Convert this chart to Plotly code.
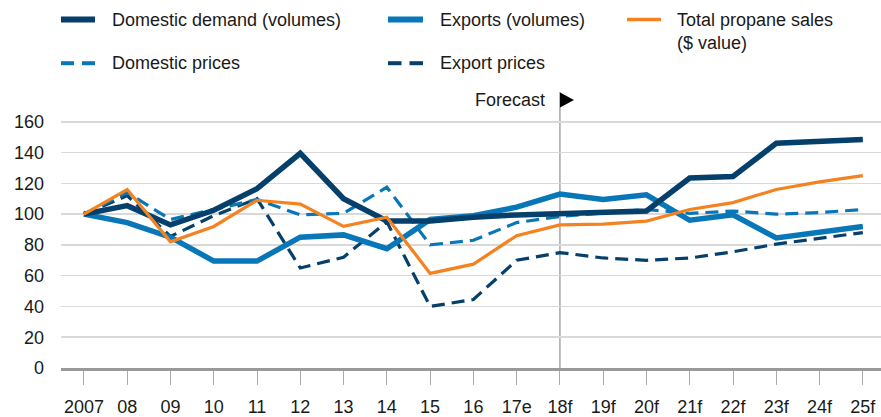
import plotly.graph_objects as go

categories = ["2007", "08", "09", "10", "11", "12", "13", "14", "15", "16", "17e",
              "18f", "19f", "20f", "21f", "22f", "23f", "24f", "25f"]
domestic_demand = [100, 105.5, 93, 102.5, 116.5, 139.5, 110, 95.5, 95.5, 98, 99.5,
                   100.5, 101.5, 102, 123.5, 124.5, 146, 147, 148.5]
exports_volumes = [100, 94.5, 85, 69.5, 69.5, 85, 86.5, 77.5, 96.5, 99, 104.5,
                   113, 109.5, 112.5, 96, 99.5, 84.5, 88, 92]
total_sales = [100, 116, 82, 92, 109, 106.5, 92, 98, 61.5, 67.5, 86,
               93, 93.5, 95.5, 103, 107.5, 116, 121, 125]
domestic_prices = [100, 114, 96.5, 103, 109.5, 99.5, 100.5, 117.5, 80, 83, 94.5,
                   98.5, 101, 103, 100.5, 102, 100, 101, 103]
export_prices = [100, 112, 85.5, 99, 110, 65, 72, 95, 40, 44.5, 70,
                 75, 71.5, 70, 71.5, 75.5, 80.5, 84.5, 88]
y_ticks = [0, 20, 40, 60, 80, 100, 120, 140, 160]
forecast_start = "18f"

NAVY = "#053f6b"
BLUE = "#0877b8"
ORANGE = "#f58220"
FONT = "Liberation Sans, Arial, sans-serif"
TEXT = "#1a1a1a"

W, H = 881, 417
L, R, T, B = 61, 0, 92, 47
PW, PH = W - L - R, H - T - B


def px_x(p):
    return (p - L) / PW


def px_y(p):
    return (H - B - p) / PH


fig = go.Figure()
fig.add_trace(go.Scatter(x=categories, y=export_prices, mode="lines", name="Export prices",
                         line=dict(color=NAVY, width=3.2, dash="13px,7px"), showlegend=False))
fig.add_trace(go.Scatter(x=categories, y=domestic_prices, mode="lines", name="Domestic prices",
                         line=dict(color=BLUE, width=3.2, dash="13px,7px"), showlegend=False))
fig.add_trace(go.Scatter(x=categories, y=exports_volumes, mode="lines", name="Exports (volumes)",
                         line=dict(color=BLUE, width=5.5), showlegend=False))
fig.add_trace(go.Scatter(x=categories, y=domestic_demand, mode="lines", name="Domestic demand (volumes)",
                         line=dict(color=NAVY, width=5.5), showlegend=False))
fig.add_trace(go.Scatter(x=categories, y=total_sales, mode="lines", name="Total propane sales ($ value)",
                         line=dict(color=ORANGE, width=3.2), showlegend=False))

shapes = []
annotations = []

# forecast divider
shapes.append(dict(type="line", xref="x", yref="paper", x0=forecast_start, x1=forecast_start,
                   y0=0, y1=1, line=dict(color="#a6a6a6", width=1.5), layer="below"))

# manual legend
legend_items = [
    ("Domestic demand (volumes)", NAVY, 6, "solid", 61, 95, 110, 19),
    ("Exports (volumes)", BLUE, 6, "solid", 388, 423, 438, 19),
    ("Total propane sales<br>($ value)", ORANGE, 3.5, "solid", 627, 661, 675, 31),
    ("Domestic prices", BLUE, 4, "dash", 61, 95, 110, 63),
    ("Export prices", NAVY, 4, "dash", 388, 423, 438, 63),
]
for label, color, width, dash, sx0, sx1, tx, ty in legend_items:
    sy = 19 if ty == 31 else ty
    if dash == "solid":
        shapes.append(dict(type="line", xref="paper", yref="paper",
                           x0=px_x(sx0), x1=px_x(sx1), y0=px_y(sy), y1=px_y(sy),
                           line=dict(color=color, width=width)))
    else:
        mid = (sx0 + sx1) / 2
        for a, b in ((sx0, mid - 4), (mid + 4, sx1)):
            shapes.append(dict(type="line", xref="paper", yref="paper",
                               x0=px_x(a), x1=px_x(b), y0=px_y(sy), y1=px_y(sy),
                               line=dict(color=color, width=width)))
    annotations.append(dict(text=label, xref="paper", yref="paper", x=px_x(tx), y=px_y(ty),
                            xanchor="left", yanchor="middle", align="left", showarrow=False,
                            font=dict(family=FONT, size=18, color=TEXT)))

# forecast label and arrow
annotations.append(dict(text="Forecast", xref="paper", yref="paper", x=px_x(547), y=px_y(100),
                        xanchor="right", yanchor="middle", showarrow=False,
                        font=dict(family=FONT, size=18, color=TEXT)))
shapes.append(dict(type="path", xref="paper", yref="paper",
                   path="M {} {} L {} {} L {} {} Z".format(px_x(560), px_y(92.5), px_x(574), px_y(100),
                                                          px_x(560), px_y(107.5)),
                   fillcolor="#000000", line=dict(width=0)))

fig.update_layout(
    width=W, height=H,
    margin=dict(l=L, r=R, t=T, b=B, pad=0),
    paper_bgcolor="white", plot_bgcolor="white",
    font=dict(family=FONT, size=18, color=TEXT),
    shapes=shapes, annotations=annotations,
    showlegend=False,
    hovermode=False,
    xaxis=dict(type="category", categoryorder="array", categoryarray=categories,
               range=[-0.53, 18.42], showgrid=False, zeroline=False,
               showline=True, linecolor="#999999", linewidth=3,
               ticks="outside", ticklen=14, tickcolor="#aaaaaa", tickwidth=1,
               ticklabelstandoff=6, tickfont=dict(family=FONT, size=18, color=TEXT)),
    yaxis=dict(range=[0, (H - B - T) / 1.55], tickvals=y_ticks, showgrid=True,
               gridcolor="#d9d9d9", gridwidth=1.5, zeroline=False, showline=False,
               ticks="", ticklabelstandoff=16, tickfont=dict(family=FONT, size=18, color=TEXT)),
)

fig.write_html("out.html", config={"displayModeBar": False, "staticPlot": True},
               post_script="document.body.style.margin='0px';document.body.style.overflow='hidden';")
